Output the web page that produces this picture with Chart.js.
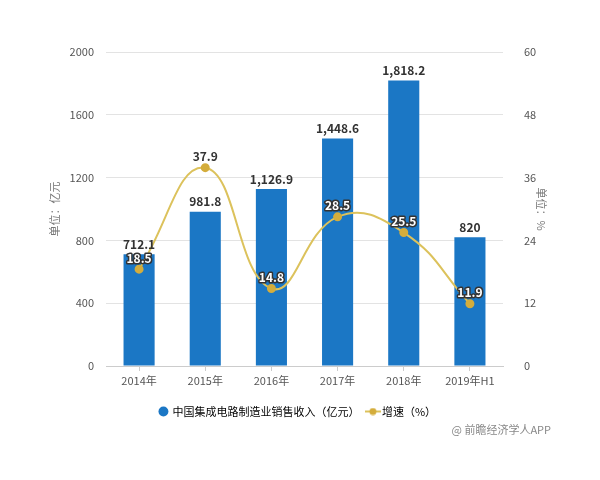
<!DOCTYPE html>
<html>
<head>
<meta charset="utf-8">
<script src="https://cdn.jsdelivr.net/npm/chart.js@4.4.1/dist/chart.umd.min.js"></script>
<style>
  html, body { margin: 0; padding: 0; background: #fff; }
  #wrap { width: 600px; height: 480px; position: relative; }
</style>
</head>
<body>
<div id="wrap"><canvas id="myChart"></canvas></div>
<script>
let categories = ['2014年', '2015年', '2016年', '2017年', '2018年', '2019年H1'];
let sales = [712.1, 981.8, 1126.9, 1448.6, 1818.2, 820];
let growth = [18.5, 37.9, 14.8, 28.5, 25.5, 11.9];

let bar_color = '#1b77c5';
let line_color = '#dcc25c';
let point_color = '#d4ad3c';
let font_family = '"Noto Sans CJK SC", "Noto Sans", sans-serif';

function format_number(v){
    return v.toLocaleString('en-US', {maximumFractionDigits: 1});
}

// small legend marker: line with a dot
function line_marker(){
    let c = document.createElement('canvas');
    c.width = 16;
    c.height = 8;
    let g = c.getContext('2d');
    g.strokeStyle = line_color;
    g.lineWidth = 2;
    g.beginPath();
    g.moveTo(0, 4);
    g.lineTo(16, 4);
    g.stroke();
    g.fillStyle = point_color;
    g.beginPath();
    g.arc(8, 4, 3.5, 0, Math.PI * 2);
    g.fill();
    return c;
}

let valueLabels = {
    id: 'valueLabels',
    afterDatasetsDraw(chart){
        let ctx = chart.ctx;
        ctx.save();
        ctx.textAlign = 'center';
        ctx.textBaseline = 'bottom';
        ctx.font = 'bold 12px ' + font_family;

        let bars = chart.getDatasetMeta(1).data;
        ctx.fillStyle = '#333';
        for (let i = 0; i < bars.length; i++) {
            ctx.fillText(format_number(sales[i]), bars[i].x, bars[i].y - 4);
        }

        let pts = chart.getDatasetMeta(0).data;
        ctx.lineWidth = 3;
        ctx.lineJoin = 'round';
        for (let i = 0; i < pts.length; i++) {
            // labels sitting on a bar are white with dark outline
            let inside = pts[i].y - 12 > bars[i].y;
            ctx.strokeStyle = inside ? '#333' : '#fff';
            ctx.fillStyle = inside ? '#fff' : '#333';
            ctx.strokeText(growth[i].toString(), pts[i].x, pts[i].y - 5);
            ctx.fillText(growth[i].toString(), pts[i].x, pts[i].y - 5);
        }

        // source note
        ctx.font = '11px ' + font_family;
        ctx.fillStyle = '#888';
        ctx.textAlign = 'right';
        ctx.textBaseline = 'middle';
        ctx.fillText('@ 前瞻经济学人APP', 551, 430);
        ctx.restore();
    }
};

let config = {
    data: {
        labels: categories,
        datasets: [
            {
                type: 'line',
                label: '增速（%）',
                data: growth,
                yAxisID: 'y1',
                borderColor: line_color,
                borderWidth: 2,
                pointBackgroundColor: point_color,
                pointBorderColor: point_color,
                pointRadius: 3.5,
                tension: 0.45,
                order: 0
            },
            {
                type: 'bar',
                label: '中国集成电路制造业销售收入（亿元）',
                data: sales,
                yAxisID: 'y',
                backgroundColor: bar_color,
                barPercentage: 0.94,
                categoryPercentage: 0.5,
                order: 1
            }
        ]
    },
    options: {
        responsive: true,
        maintainAspectRatio: false,
        animation: false,
        layout: {
            padding: {left: 44, right: 48, top: 52, bottom: 53}
        },
        plugins: {
            tooltip: {enabled: false},
            legend: {
                position: 'bottom',
                labels: {
                    usePointStyle: true,
                    boxWidth: 7,
                    boxHeight: 7,
                    color: '#333',
                    padding: 10,
                    font: {size: 11, family: font_family},
                    generateLabels(chart){
                        return [
                            {
                                text: '中国集成电路制造业销售收入（亿元）',
                                fillStyle: bar_color,
                                strokeStyle: bar_color,
                                pointStyle: 'circle',
                                lineWidth: 0,
                                datasetIndex: 1
                            },
                            {
                                text: '增速（%）',
                                fillStyle: point_color,
                                strokeStyle: point_color,
                                pointStyle: line_marker(),
                                lineWidth: 0,
                                datasetIndex: 0
                            }
                        ];
                    }
                }
            }
        },
        scales: {
            x: {
                grid: {display: true, drawOnChartArea: false, drawTicks: true, tickLength: 5, color: '#ccc', offset: false},
                border: {color: '#ccc'},
                ticks: {color: '#555', font: {size: 11, family: font_family}},
                afterFit(scale){ scale.height = 30; }
            },
            y: {
                position: 'left',
                min: 0,
                max: 2000,
                ticks: {stepSize: 400, color: '#555', padding: 12, font: {size: 11, family: font_family},
                        callback(value){ return value; }},
                grid: {color: '#e3e3e3', drawTicks: false},
                border: {display: false},
                title: {display: true, text: '单位：亿元', color: '#777', font: {size: 11, family: font_family}},
                afterFit(scale){ scale.width = 62; }
            },
            y1: {
                position: 'right',
                min: 0,
                max: 60,
                ticks: {stepSize: 12, color: '#555', padding: 13, font: {size: 11, family: font_family}},
                grid: {display: false},
                border: {display: false},
                title: {display: true, text: '单位：%', color: '#777', font: {size: 11, family: font_family}},
                afterFit(scale){ scale.width = 49; }
            }
        }
    },
    plugins: [valueLabels]
};

let ctx = document.getElementById('myChart');
window.chart = new Chart(ctx, config);
</script>
</body>
</html>
